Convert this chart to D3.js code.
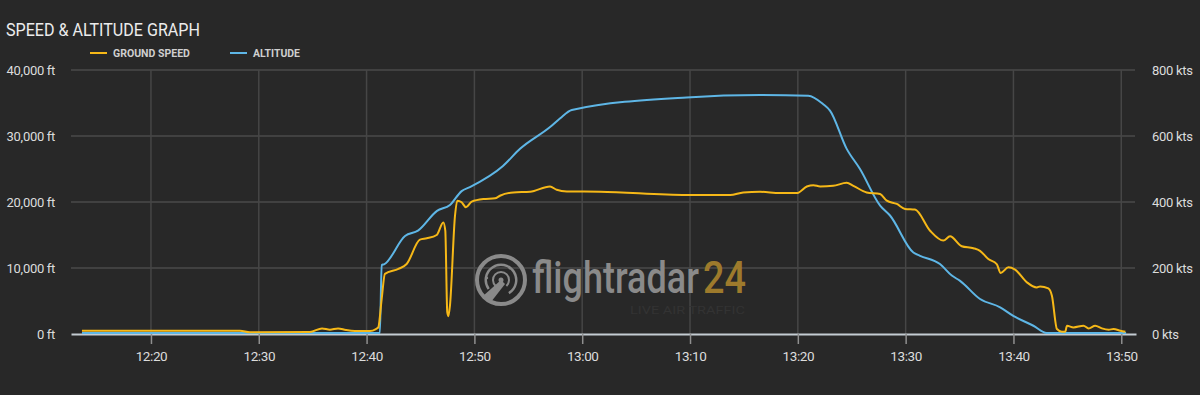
<!DOCTYPE html>
<html>
<head>
<meta charset="utf-8">
<script src="https://cdn.jsdelivr.net/npm/d3@7"></script>
<style>
  html, body { margin: 0; padding: 0; background: #282828; }
  svg { display: block; }
  text { font-family: Roboto, "Noto Sans", sans-serif; }
</style>
</head>
<body>
<div id="chart"></div>
<script>
// ===== data =====
let altTimes = ["12:13:36", "12:41:14", "12:41:24", "12:41:37", "12:43:34", "12:44:46", "12:46:32", "12:47:44",
  "12:48:49", "12:49:35", "12:52:39", "12:54:14", "12:57:01", "12:57:56", "12:59:02", "13:09:41", "13:16:30",
  "13:20:58", "13:22:20", "13:22:59", "13:24:32", "13:25:46", "13:27:38", "13:28:33", "13:30:43", "13:31:20",
  "13:33:11", "13:34:17", "13:35:03", "13:36:54", "13:38:46", "13:39:59", "13:41:51", "13:43:05", "13:50:27"];
let altFeet = [0, 0, 10300, 10400, 14700, 15500, 18500, 19400,
  21500, 22100, 25300, 27900, 31200, 32500, 33800, 35700, 36050,
  35950, 34700, 33700, 27900, 24850, 19300, 17800, 12200, 11700,
  10450, 8700, 7900, 5150, 3900, 2600, 1100, 0, 0];

let speedTimes = ["12:13:36", "12:28:16", "12:29:11", "12:34:45", "12:35:52", "12:36:36", "12:37:21", "12:38:05",
  "12:38:55", "12:40:19", "12:40:52", "12:41:05", "12:41:24", "12:41:42", "12:42:57", "12:43:43", "12:44:57",
  "12:45:35", "12:46:30", "12:47:07", "12:47:18", "12:47:29", "12:47:35", "12:47:44", "12:48:12", "12:48:25",
  "12:48:49", "12:49:13", "12:49:45", "12:50:50", "12:51:55", "12:52:22", "12:53:37", "12:55:10", "12:57:01",
  "12:57:38", "12:58:34", "13:01:39", "13:09:41", "13:13:43", "13:14:56", "13:16:30", "13:18:21", "13:19:54",
  "13:20:50", "13:21:27", "13:22:04", "13:23:17", "13:24:32", "13:25:09", "13:26:23", "13:27:38", "13:28:15",
  "13:29:11", "13:29:57", "13:30:52", "13:32:16", "13:33:30", "13:34:07", "13:35:12", "13:36:17", "13:36:54",
  "13:37:40", "13:38:27", "13:38:49", "13:39:32", "13:40:09", "13:41:14", "13:42:10", "13:42:28", "13:43:14",
  "13:43:34", "13:44:02", "13:44:29", "13:44:48", "13:44:58", "13:45:34", "13:46:30", "13:46:58", "13:47:35",
  "13:48:12", "13:48:50", "13:49:17", "13:49:55", "13:50:23"];
let speedKts = [7, 7, 2, 3, 14, 10, 14, 9,
  6, 6, 12, 17, 103, 179, 194, 209, 283,
  287, 297, 335, 310, 63, 51, 83, 355, 401,
  396, 381, 398, 406, 408, 416, 426, 428, 444,
  434, 429, 428, 418, 418, 426, 428, 424, 424,
  444, 448, 444, 446, 455, 446, 426, 421, 401,
  391, 376, 374, 310, 280, 293, 263, 257, 249,
  224, 209, 182, 199, 192, 154, 138, 141, 135,
  113, 12, 4, 4, 22, 17, 22, 14, 22,
  14, 10, 12, 7, 4];

let altTicks = [0, 10000, 20000, 30000, 40000];
let speedTicks = [0, 200, 400, 600, 800];
let timeSpan = ["12:12:35", "13:51:22"];

// ===== layout =====
let W = 1200, H = 395;
let margin = {top: 70, right: 64, bottom: 61, left: 71},
    width = W - margin.left - margin.right,
    height = H - margin.top - margin.bottom;

let parseTime = d3.timeParse("%H:%M:%S");

let x = d3.scaleTime().domain(timeSpan.map(parseTime)).range([0, width]),
    yAlt = d3.scaleLinear().domain([0, 40000]).range([height, 0]),
    ySpd = d3.scaleLinear().domain([0, 800]).range([height, 0]);

let svg = d3.select("#chart").append("svg")
    .attr("width", W)
    .attr("height", H);

// squeeze a text horizontally to a target width (condensed look)
let squeeze = (sel, tx, ty, w) => {
  let natural = sel.node().getComputedTextLength();
  sel.attr("transform", "translate(" + tx + "," + ty + ") scale(" + (w / natural) + ",1)");
};

// title + legend
svg.append("text")
    .attr("fill", "#ececec")
    .attr("font-size", 18)
    .text("SPEED & ALTITUDE GRAPH")
    .call(squeeze, 6, 36, 194);

let legend = [
  {label: "GROUND SPEED", color: "#f6b817", x: 90, w: 77},
  {label: "ALTITUDE", color: "#5eb6e6", x: 230, w: 47}
];
legend.forEach(d => {
  svg.append("line")
      .attr("x1", d.x).attr("x2", d.x + 17)
      .attr("y1", 53).attr("y2", 53)
      .attr("stroke", d.color).attr("stroke-width", 2);
  svg.append("text")
      .attr("fill", "#cfcfcf")
      .attr("font-size", 11.5).attr("font-weight", "bold")
      .text(d.label)
      .call(squeeze, d.x + 23, 57, d.w);
});

let g = svg.append("g")
    .attr("transform", "translate(" + margin.left + "," + margin.top + ")");

// grid
g.selectAll(".hgrid").data(altTicks.slice(1)).enter().append("line")
    .attr("class", "hgrid")
    .attr("x1", 0).attr("x2", width - 1)
    .attr("y1", d => yAlt(d)).attr("y2", d => yAlt(d))
    .attr("stroke", "#4a4a4a").attr("stroke-width", 1.5);

let xTicks = x.ticks(d3.timeMinute.every(10));
g.selectAll(".vgrid").data(xTicks).enter().append("line")
    .attr("class", "vgrid")
    .attr("x1", d => x(d)).attr("x2", d => x(d))
    .attr("y1", 0).attr("y2", height)
    .attr("stroke", "#464646").attr("stroke-width", 1.5);

// watermark
let wm = g.append("g")
    .attr("transform", "translate(" + (501 - margin.left) + "," + (280 - margin.top) + ")");
wm.append("circle").attr("r", 24).attr("fill", "none").attr("stroke", "#8a8a8a").attr("stroke-width", 4);
wm.append("path")
    .attr("d", d3.arc().innerRadius(14).outerRadius(16.5).startAngle(-2.2).endAngle(2.6)())
    .attr("fill", "#8a8a8a");
wm.append("path")
    .attr("d", d3.arc().innerRadius(7).outerRadius(9).startAngle(-2.4).endAngle(2.4)())
    .attr("fill", "#8a8a8a");
wm.append("circle").attr("r", 2.5).attr("fill", "#8a8a8a");
wm.append("path").attr("d", "M0,0 L4,4 L-10,22 L-18,16 Z").attr("fill", "#8a8a8a");
wm.append("circle").attr("cx", 9).attr("cy", -12).attr("r", 1.5).attr("fill", "#8a8a8a");
wm.append("circle").attr("cx", -14).attr("cy", -2).attr("r", 1.2).attr("fill", "#8a8a8a");

wm.append("text")
    .attr("fill", "#8a8a8a").attr("font-size", 44).attr("font-weight", 500)
    .text("flightradar")
    .call(squeeze, 31, 13, 167);
wm.append("text")
    .attr("fill", "#9d7a2c").attr("font-size", 44).attr("font-weight", 500)
    .text("24")
    .call(squeeze, 202, 13, 43);
wm.append("text")
    .attr("fill", "#333333").attr("font-size", 11)
    .text("LIVE AIR TRAFFIC")
    .call(squeeze, 129, 34, 115);

// x axis
let xAxis = d3.axisBottom(x)
    .tickValues(xTicks)
    .tickFormat(d3.timeFormat("%H:%M"))
    .tickSize(10).tickSizeOuter(0).tickPadding(7);

let gx = g.append("g")
    .attr("class", "axis axis--x")
    .attr("transform", "translate(0," + height + ")")
    .call(xAxis);
gx.select(".domain").attr("stroke", "#c4ccd2").attr("stroke-width", 2);
gx.selectAll(".tick line").attr("stroke", "#8f8f8f").attr("stroke-width", 1.5);
gx.selectAll(".tick text")
    .attr("fill", "#dcdcdc").attr("font-size", 13.5)
    .attr("letter-spacing", "-0.4px")
    .attr("font-family", "Roboto, sans-serif");

// y axes
let yAxis = d3.axisLeft(yAlt)
    .tickValues(altTicks)
    .tickFormat(d => d3.format(",")(d) + " ft")
    .tickSize(0).tickPadding(16);
let gy = g.append("g").attr("class", "axis axis--y").call(yAxis);
gy.select(".domain").remove();
gy.selectAll(".tick text")
    .attr("fill", "#dcdcdc").attr("font-size", 13)
    .attr("letter-spacing", "-0.3px")
    .attr("font-family", "Roboto, sans-serif");

let yAxisR = d3.axisRight(ySpd)
    .tickValues(speedTicks)
    .tickFormat(d => d + " kts")
    .tickSize(0).tickPadding(16);
let gyR = g.append("g").attr("class", "axis axis--yR")
    .attr("transform", "translate(" + width + ",0)")
    .call(yAxisR);
gyR.select(".domain").remove();
gyR.selectAll(".tick text")
    .attr("fill", "#dcdcdc").attr("font-size", 13)
    .attr("letter-spacing", "-0.3px")
    .attr("font-family", "Roboto, sans-serif");

// lines
let altData = altTimes.map((t, i) => ({t: parseTime(t), v: altFeet[i]}));
let spdData = speedTimes.map((t, i) => ({t: parseTime(t), v: speedKts[i]}));

let altLine = d3.line().x(d => x(d.t)).y(d => yAlt(d.v) - 1).curve(d3.curveMonotoneX);
let spdLine = d3.line().x(d => x(d.t)).y(d => ySpd(d.v) - 1).curve(d3.curveMonotoneX);

g.append("path").datum(altData)
    .attr("d", altLine)
    .attr("fill", "none").attr("stroke", "#5eb6e6").attr("stroke-width", 2);

g.append("path").datum(spdData)
    .attr("d", spdLine)
    .attr("fill", "none").attr("stroke", "#f6b817").attr("stroke-width", 2);
</script>
</body>
</html>
